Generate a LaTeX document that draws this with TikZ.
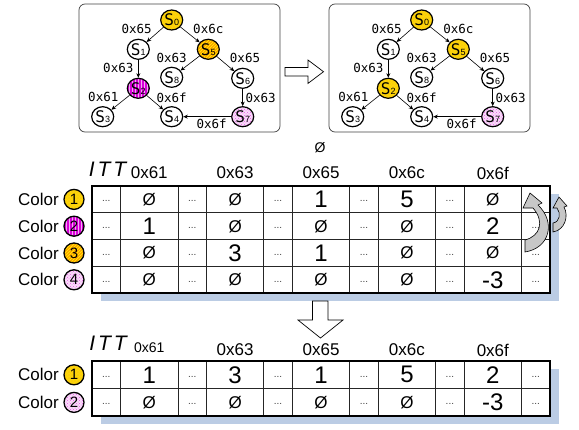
\documentclass[tikz,border=0pt]{standalone}
\usepackage{fontspec}
\setmainfont{Liberation Sans}
\newfontfamily\codefont{DejaVu Sans Mono}
\usepackage{tikz}
\usetikzlibrary{shapes.geometric,patterns,arrows.meta}

\definecolor{hlyellow}{RGB}{255,222,0}
\definecolor{hlhatch}{RGB}{250,200,20}
\definecolor{hlorange}{RGB}{255,158,0}
\definecolor{hlmagenta}{RGB}{216,0,216}
\definecolor{hlstripe}{RGB}{240,170,240}
\definecolor{hlpink}{RGB}{232,90,232}
\definecolor{ittshadow}{RGB}{187,204,228}

\newcommand{\stname}[1]{{\codefont\fontsize{16}{16}\selectfont S}{\fontsize{9}{9}\selectfont #1}}
\newcommand{\noval}{{\fontsize{17}{17}\selectfont Ø}}

\begin{document}
\begin{tikzpicture}[x=1pt, y=-1pt,
    st/.style={ellipse, draw, line width=1.2pt, minimum width=22pt, minimum height=20pt, inner sep=0pt, fill=white},
    tr/.style={->, >={Stealth[length=4.5pt, width=4pt]}, line width=0.6pt},
    lbl/.style={font=\codefont\fontsize{12.5}{13}\selectfont, inner sep=0pt},
    col1/.style={preaction={fill=hlyellow}, pattern=crosshatch, pattern color=hlhatch},
    col2/.style={preaction={fill=hlmagenta}, pattern=vertical lines, pattern color=hlstripe},
    col3/.style={preaction={fill=hlorange}, pattern=north east lines, pattern color=yellow},
    col4/.style={preaction={fill=hlpink!20}, pattern=crosshatch dots, pattern color=hlpink},
    colname/.style={font=\fontsize{17}{17}\selectfont, anchor=east, inner sep=0pt},
    colmark/.style={circle, draw, line width=1.3pt, minimum size=20pt, inner sep=0pt, font=\fontsize{15}{15}\selectfont},
    itt/.style={font=\itshape\fontsize{21}{21}\selectfont, inner sep=0pt},
    colhead/.style={font=\fontsize{17}{17}\selectfont, inner sep=0pt},
    cellval/.style={font=\fontsize{24}{24}\selectfont, inner sep=0pt},
    dotcell/.style={font=\fontsize{10}{10}\selectfont, text=black!75, inner sep=0pt},
    cellline/.style={line width=0.7pt, black!85},
    tabframe/.style={line width=2.2pt},
    hollow/.style={draw, line width=0.7pt, fill=white},
    turnarrow/.style={draw, line width=0.6pt, fill=black!22}]
    \useasboundingbox (0,0) rectangle (579,429);

    \foreach \p/\dx/\ca/\cb/\cc in {a/0/col1/col3/col2, b/250/col1/col1/col1}{
    \begin{scope}[xshift=\dx pt, name prefix=\p-]
        \draw[rounded corners=6pt, line width=0.7pt, black!75] (79,4) rectangle (280,132);
        \node[st,\ca] (s0) at (171.7,20) {\stname0};
        \node[st] (s1) at (138.3,49.3) {\stname1};
        \node[st,\cb] (s5) at (208.3,49.3) {\stname5};
        \node[st] (s8) at (171.7,77.3) {\stname8};
        \node[st] (s6) at (242.7,78.3) {\stname6};
        \node[st,\cc] (s2) at (138.3,88.3) {\stname2};
        \node[st] (s3) at (102.7,116.7) {\stname3};
        \node[st] (s4) at (171.7,116.7) {\stname4};
        \node[st,col4] (s7) at (242.7,116.7) {\stname7};
        \draw[tr] (s0) -- (s1);
        \draw[tr] (s0) -- (s5);
        \draw[tr] (s1) -- (s2);
        \draw[tr] (s5) -- (s8);
        \draw[tr] (s5) -- (s6);
        \draw[tr] (s2) -- (s3);
        \draw[tr] (s2) -- (s4);
        \draw[tr] (s6) -- (s7);
        \draw[tr] (s7) -- (s4);
        \node[lbl] (e01) at (136.7,29.3) {0x65};
        \node[lbl] (e05) at (208.3,29.3) {0x6c};
        \node[lbl] (e12) at (118.3,68.3) {0x63};
        \node[lbl] (e58) at (171.7,58.3) {0x63};
        \node[lbl] (e56) at (245,58.3) {0x65};
        \node[lbl] (e23) at (103.3,96.7) {0x61};
        \node[lbl] (e24) at (171.7,97.7) {0x6f};
        \node[lbl] (e67) at (260.7,97.7) {0x63};
        \node[lbl] (e74) at (211.7,124) {0x6f};
    \end{scope}}
    \draw[hollow] (285,67.5) -- (308,67.5) -- (308,60) -- (323.5,71.7) -- (308,83.4) -- (308,75.9) -- (285,75.9) -- cycle;

    \node[font=\fontsize{14}{14}\selectfont, inner sep=0pt] (nul) at (320,148) {Ø};
    \node[itt] (itt1) at (107.5,169) {I\kern3pt T\kern3pt T};
    \foreach \k/\x/\t in {1/149.25/0x61, 2/235.15/0x63, 3/321.05/0x65, 4/406.95/0x6c, 5/492.85/0x6f}
        \node[colhead] (h\k) at (\x,173) {\t};

    \fill[ittshadow] (101,194) rectangle (559.1,301);
    \fill[white] (92,186) rectangle (550.1,293.2);
    \foreach \x in {120.6,177.9,206.5,263.8,292.4,349.7,378.3,435.6,464.2,521.5}
        \draw[cellline] (\x,186) -- (\x,293.2);
    \foreach \y in {212.8,239.6,266.4}
        \draw[cellline] (92,\y) -- (550.1,\y);
    \draw[tabframe] (92,186) rectangle (550.1,293.2);

    \foreach \r/\y/\c/\va/\vb/\vc/\vd/\ve in {1/199.4/col1/\noval/\noval/1/5/\noval,
            2/226.2/col2/1/\noval/\noval/\noval/2, 3/253/col3/\noval/3/1/\noval/\noval,
            4/279.8/col4/\noval/\noval/\noval/\noval/-3}{
        \node[colname] (n\r) at (59,\y) {Color};
        \node[colmark,\c] (m\r) at (74,\y) {\r};
        \node[cellval] (u\r-1) at (149.25,\y) {\va};
        \node[cellval] (u\r-2) at (235.15,\y) {\vb};
        \node[cellval] (u\r-3) at (321.05,\y) {\vc};
        \node[cellval] (u\r-4) at (406.95,\y) {\vd};
        \node[cellval] (u\r-5) at (492.85,\y) {\ve};
        \foreach \k/\x in {1/106.3,2/192.2,3/278.1,4/364,5/449.9}
            \node[dotcell] (ud\r-\k) at (\x,\y+2) {...};
    }
    \foreach \r/\y in {2/226.2,3/253,4/279.8}
        \node[dotcell] (ud\r-6) at (535.8,\y+2) {...};

    \draw[turnarrow] (525,240) .. controls (540,236) and (545,222) .. (533,208) -- (523,208) -- (530,193) -- (542,203) -- (538,205) .. controls (556,222) and (550,248) .. (525,252) -- cycle;
    \draw[turnarrow] (553,223) .. controls (560,222) and (561,213) .. (557,208) -- (553,208) -- (559,197) -- (567,206) -- (564,207) .. controls (569,216) and (565,230) .. (553,232) -- cycle;

    \draw[hollow] (312.5,301) -- (328,301) -- (328,320) -- (343,320) -- (320.5,338) -- (298,320) -- (312.5,320) -- cycle;

    \node[itt] (itt2) at (108,343.5) {I\kern3pt T\kern3pt T};
    \node[colhead, font=\fontsize{14}{14}\selectfont] (g1) at (149.25,348) {0x61};
    \foreach \k/\x/\t in {2/235.15/0x63, 3/321.05/0x65, 4/406.95/0x6c, 5/492.85/0x6f}
        \node[colhead] (g\k) at (\x,350) {\t};

    \fill[ittshadow] (101,369) rectangle (559.1,424.2);
    \fill[white] (92,361) rectangle (550.1,416.2);
    \foreach \x in {120.6,177.9,206.5,263.8,292.4,349.7,378.3,435.6,464.2,521.5}
        \draw[cellline] (\x,361) -- (\x,416.2);
    \draw[cellline] (92,388.6) -- (550.1,388.6);
    \draw[tabframe] (92,361) rectangle (550.1,416.2);

    \foreach \r/\y/\c/\va/\vb/\vc/\vd/\ve in {1/374.8/col1/1/3/1/5/2, 2/402.4/col4/\noval/\noval/\noval/\noval/-3}{
        \node[colname] (k\r) at (59,\y) {Color};
        \node[colmark,\c] (j\r) at (74,\y) {\r};
        \node[cellval] (w\r-1) at (149.25,\y) {\va};
        \node[cellval] (w\r-2) at (235.15,\y) {\vb};
        \node[cellval] (w\r-3) at (321.05,\y) {\vc};
        \node[cellval] (w\r-4) at (406.95,\y) {\vd};
        \node[cellval] (w\r-5) at (492.85,\y) {\ve};
        \foreach \k/\x in {1/106.3,2/192.2,3/278.1,4/364,5/449.9,6/535.8}
            \node[dotcell] (wd\r-\k) at (\x,\y+2) {...};
    }
\end{tikzpicture}
\end{document}
